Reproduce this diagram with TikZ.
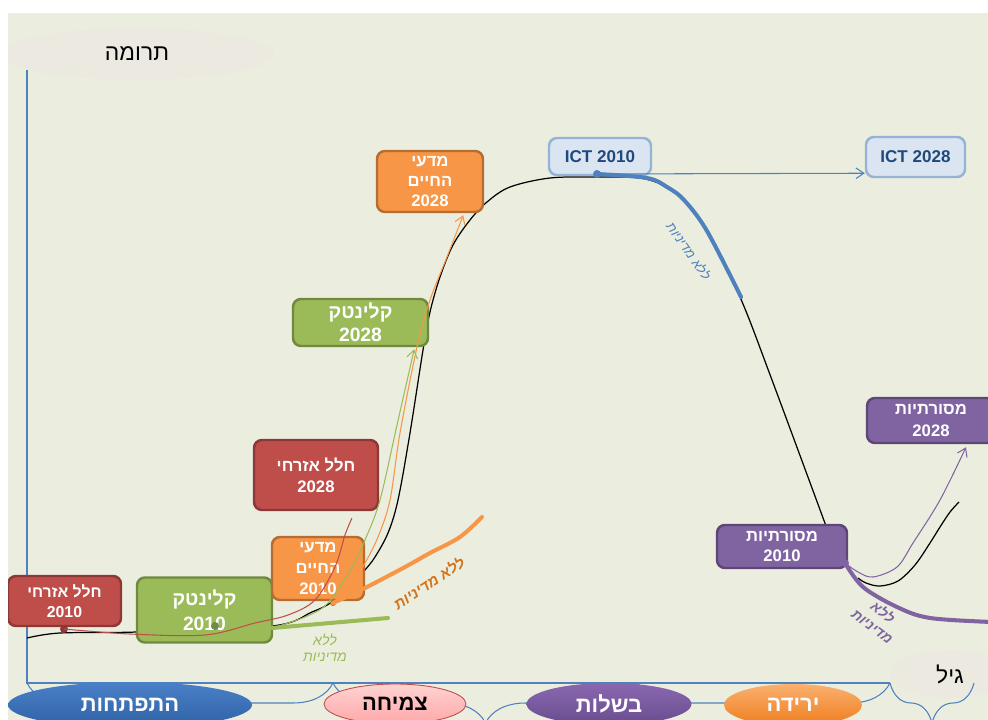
\documentclass[tikz,border=0pt]{standalone}
\usepackage{fontspec}
\setmainfont{Liberation Sans}
\newfontfamily\heb[Script=Hebrew]{Liberation Sans}
\TeXXeTstate=1
\usetikzlibrary{positioning}
\usetikzlibrary{calc}
\usetikzlibrary{shapes.geometric, arrows.meta, decorations.pathreplacing}
\newcommand{\rtltext}[1]{\beginR#1\endR}

\definecolor{bgcol}{HTML}{EBEEDF}
\definecolor{labelbg}{HTML}{ECEAE0}
\definecolor{axisblue}{HTML}{4F81BD}
\definecolor{civred}{HTML}{BF4D4A}
\definecolor{civredd}{HTML}{8C3836}
\definecolor{cleangreen}{HTML}{9BBB59}
\definecolor{cleangreend}{HTML}{71893F}
\definecolor{lifeorange}{HTML}{F79646}
\definecolor{lifeoranged}{HTML}{B66D31}
\definecolor{ictfill}{HTML}{DBE5F1}
\definecolor{ictline}{HTML}{95B3D7}
\definecolor{ictdark}{HTML}{1F497D}
\definecolor{tradpurple}{HTML}{8064A2}
\definecolor{tradpurpled}{HTML}{5C4776}
\definecolor{devtop}{HTML}{4A80C8}
\definecolor{devbot}{HTML}{2F62A6}
\definecolor{growtop}{HTML}{FFD2D2}
\definecolor{growbot}{HTML}{FFA8A8}
\definecolor{maturetop}{HTML}{8A68B0}
\definecolor{maturebot}{HTML}{684C8E}
\definecolor{declinetop}{HTML}{FAB070}
\definecolor{declinebot}{HTML}{EE7D1C}

\tikzset{
	sectorbox/.style = {rectangle, rounded corners=4.5pt, draw, line width=1.4pt, align=center, inner sep=1pt, text=white},
	civ/.style = {sectorbox, fill=civred, draw=civredd},
	clean/.style = {sectorbox, fill=cleangreen, draw=cleangreend},
	life/.style = {sectorbox, fill=lifeorange, draw=lifeoranged},
	ict/.style = {sectorbox, fill=ictfill, draw=ictline, text=ictdark},
	trad/.style = {sectorbox, fill=tradpurple, draw=tradpurpled},
	phaseoval/.style = {ellipse, inner sep=0pt, font=\heb\bfseries\fontsize{12.5}{14}\selectfont},
	axislabel/.style = {ellipse, inner sep=0pt, fill=labelbg, font=\heb\fontsize{13}{15}\selectfont},
	pointdot/.style = {circle, inner sep=0pt, minimum size=0.16cm},
	trend/.style = {line width=0.6pt},
	nopolicy/.style = {line width=2.3pt, line cap=round},
	nplabel/.style = {align=center, inner sep=0pt, font=\heb\itshape\fontsize{8}{9}\selectfont},
	phasebrace/.style = {draw=axisblue, line width=0.6pt, decorate, decoration={brace, mirror, amplitude=0.8cm}},
	barb/.style = {-{Straight Barb[length=4.5pt,width=6pt]}}
}

\begin{document}
\begin{tikzpicture}[x=0.02cm, y=-0.02cm]
	\useasboundingbox (0,0) rectangle (988,720);
	\fill[white] (0,0) rectangle (988,720);
	\clip (8,13) rectangle (988,720);
	\fill[bgcol] (8,13) rectangle (988,720);

	% Axis labels
	\node (contrib) [axislabel, minimum width=5.5cm, minimum height=1.04cm] at (137,54) {\rtltext{תרומה}};
	\node (age) [axislabel, minimum width=2.4cm, minimum height=0.96cm] at (950,674) {\rtltext{גיל}};

	% Axes and phase braces
	\coordinate (origin) at (27,683);
	\coordinate (ytop) at (27,70);
	\coordinate (xend) at (890,683);
	\coordinate (b1) at (333,683);
	\coordinate (b2) at (638,683);
	\coordinate (b3) at (974,683);
	\draw[phasebrace] (origin) -- (b1);
	\draw[phasebrace] (b1) -- (b2);
	\draw[phasebrace] (b2) -- (xend);
	\draw[phasebrace] (xend) -- (b3);
	\draw[axisblue, line width=1.4pt] (ytop) -- (origin) -- (xend);

	% Phases
	\node (dev) [phaseoval, minimum width=4.88cm, minimum height=0.92cm, top color=devtop, bottom color=devbot, text=white] at (130,705) {\rtltext{התפתחות}};
	\node (grow) [phaseoval, minimum width=2.84cm, minimum height=0.8cm, top color=growtop, bottom color=growbot, draw=civred, line width=0.5pt] at (395,704) {\rtltext{צמיחה}};
	\node (mature) [phaseoval, minimum width=3.3cm, minimum height=0.84cm, top color=maturetop, bottom color=maturebot, text=white] at (609,704) {\rtltext{בשלות}};
	\node (decline) [phaseoval, minimum width=2.76cm, minimum height=0.84cm, top color=declinetop, bottom color=declinebot, text=white] at (793,705) {\rtltext{ירידה}};

	% Life cycle
	\draw[black, line width=0.7pt] plot[smooth, tension=0.55] coordinates {(27,638) (60,633) (137,632) (272,626) (312,612) (332,602) (352,585) (365,570) (375,557) (388,533) (398,500) (410,433) (423,350) (430,312) (440,277) (453,245) (470,220) (487,202) (510,187) (550,178) (597,177) (640,178) (667,187) (684,201) (707,232) (740,297) (772,380) (826,526)};
	\draw[black, line width=0.7pt] plot[smooth, tension=0.55] coordinates {(858,578) (866,583) (880,586) (898,581) (915,565) (930,543) (940,527) (950,512) (959,502)};

	% Sectors
	\node (civ10) [civ, minimum width=2.26cm, minimum height=1cm, font=\heb\bfseries\fontsize{9}{11}\selectfont] at (64.5,601) {\rtltext{חלל אזרחי}\\2010};
	\node (clean10) [clean, minimum width=2.7cm, minimum height=1.3cm, font=\heb\bfseries\fontsize{11}{14.5}\selectfont] at (204.5,610) {\rtltext{קלינטק}\\2010};
	\node (life10) [life, minimum width=1.84cm, minimum height=1.26cm, font=\heb\bfseries\fontsize{9.5}{11.8}\selectfont] at (318,568.5) {\rtltext{מדעי}\\\rtltext{החיים}\\2010};
	\node (civ28) [civ, minimum width=2.48cm, minimum height=1.4cm, font=\heb\bfseries\fontsize{9.5}{12}\selectfont] at (316,475) {\rtltext{חלל אזרחי}\\2028};
	\node (clean28) [clean, minimum width=2.7cm, minimum height=0.94cm, font=\heb\bfseries\fontsize{11}{13}\selectfont] at (360.5,322.5) {\rtltext{קלינטק}\\2028};
	\node (life28) [life, minimum width=2.12cm, minimum height=1.22cm, font=\heb\bfseries\fontsize{9.5}{11.3}\selectfont] at (430,181.5) {\rtltext{מדעי}\\\rtltext{החיים}\\2028};
	\node (ict10) [ict, minimum width=2.04cm, minimum height=0.74cm, font=\bfseries\fontsize{9.7}{12}\selectfont] at (600,156.5) {ICT 2010};
	\node (ict28) [ict, minimum width=1.98cm, minimum height=0.8cm, font=\bfseries\fontsize{9.7}{12}\selectfont] at (915.5,157) {ICT 2028};
	\node (trad10) [trad, minimum width=2.6cm, minimum height=0.86cm, font=\heb\bfseries\fontsize{9.5}{11}\selectfont] at (782,546.5) {\rtltext{מסורתיות}\\2010};
	\node (trad28) [trad, minimum width=2.56cm, minimum height=0.9cm, font=\heb\bfseries\fontsize{9.5}{12}\selectfont] at (931,420.5) {\rtltext{מסורתיות}\\2028};

	% Start points
	\node (civdot) [pointdot, fill=civredd] at (64,629) {};
	\node (cleandot) [pointdot, fill=cleangreend!80!gray] at (215,626) {};
	\node (lifedot) [pointdot, fill=lifeoranged, minimum size=0.12cm] at (333,603) {};
	\node (ictdot) [pointdot, fill=axisblue] at (597,174) {};
	\node (traddot) [pointdot, fill=tradpurple] at (845,563) {};
	\coordinate (cleanout) at (272,628);
	\coordinate (civend) at (352,518);
	\coordinate (cleantip) at ($(clean28.south east)+(-15,2)$);
	\coordinate (lifetip) at ($(life28.south east)+(-21,2)$);
	\coordinate (icttip) at ($(ict28.south west)+(0,-5)$);
	\coordinate (tradtip) at ($(trad28.south)+(35,3)$);

	% Growth to 2028
	\draw[trend, civred] plot[smooth, tension=0.55] coordinates {(civdot.center) (130,634) (205,635) (255,623) (288,615) (315,600) (335,567) (345,535) (civend)};
	\draw[trend, barb, cleangreen] plot[smooth, tension=0.55] coordinates {(cleanout) (305,617) (328,603) (352,567) (365,540) (380,500) (397,425) (cleantip)};
	\draw[trend, barb, lifeorange] plot[smooth, tension=0.55] coordinates {(lifedot.center) (352,584) (365,563) (378,537) (390,500) (400,433) (417,347) (430,300) (447,257) (lifetip)};
	\draw[trend, barb, axisblue] (ictdot.center) -- (icttip);
	\draw[trend, barb, tradpurple] plot[smooth, tension=0.55] coordinates {(traddot.center) (858,572) (873,577) (897,567) (913,543) (940,500) (tradtip)};

	% Without policy
	\draw[nopolicy, cleangreen] (cleanout) -- (388,618);
	\draw[nopolicy, lifeorange] plot[smooth, tension=0.55] coordinates {(lifedot.center) (365,588) (405,567) (430,553) (460,537) (482,517)};
	\draw[nopolicy, axisblue] plot[smooth, tension=0.55] coordinates {(ictdot.center) (647,178) (667,187) (684,200) (707,231) (741,297)};
	\draw[nopolicy, tradpurple] plot[smooth, tension=0.55] coordinates {(traddot.center) (863,587) (897,607) (930,618) (992,622)};

	\node (cleannp) [nplabel, text=cleangreen] at (325,648) {\rtltext{ללא}\\\rtltext{מדיניות}};
	\node (lifenp) [nplabel, text=lifeoranged!60!orange, font=\heb\bfseries\itshape\fontsize{8.5}{9}\selectfont, rotate=33] at (429,583) {\rtltext{ללא מדיניות}};
	\node (ictnp) [nplabel, text=axisblue, font=\heb\itshape\fontsize{7.5}{9}\selectfont, rotate=-55] at (689,251) {\rtltext{ללא מדיניות}};
	\node (tradnp) [nplabel, text=tradpurple, font=\heb\bfseries\itshape\fontsize{8}{10}\selectfont, rotate=-37] at (878,619) {\rtltext{ללא}\\\rtltext{מדיניות}};
\end{tikzpicture}
\end{document}
